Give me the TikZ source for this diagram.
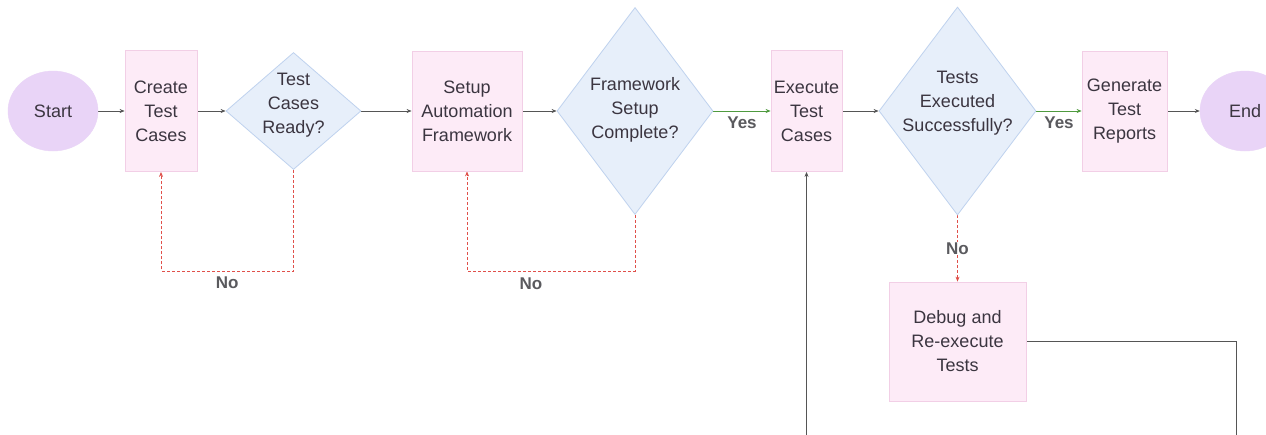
\documentclass[tikz,border=0pt]{standalone}
\usepackage{fontspec}
\setmainfont{Liberation Sans}[Color=3B3540]
\newfontfamily\lblfont{Liberation Sans}[Color=5A5A5E]
\usetikzlibrary{shapes.geometric,arrows.meta,calc,backgrounds}
\definecolor{boxfill}{HTML}{FDEBF7}
\definecolor{boxline}{HTML}{F2CFE6}
\definecolor{diafill}{HTML}{E7EFFA}
\definecolor{dialine}{HTML}{BFD2EE}
\definecolor{termfill}{HTML}{E9D4F7}
\definecolor{arrc}{HTML}{555555}
\definecolor{yesc}{HTML}{4E9A3E}
\definecolor{noc}{HTML}{E0504A}
\begin{document}
\begin{tikzpicture}[x=1pt,y=-1pt,
 every node/.style={font=\fontsize{18}{24}\selectfont},
 procbox/.style={rectangle, draw=boxline, fill=boxfill, line width=0.8pt, inner sep=0pt, align=center},
 decision/.style={diamond, draw=dialine, fill=diafill, line width=0.8pt, inner sep=0pt},
 terminal/.style={ellipse, draw=termfill, fill=termfill, inner sep=0pt, minimum width=90pt, minimum height=80pt},
 words/.style={align=center, inner sep=0pt},
 lbl/.style={font=\lblfont\bfseries\fontsize{17}{20}\selectfont, inner sep=1pt},
 baseflow/.style={line width=0.7pt, -{Stealth[length=5pt,width=4pt]}},
 flow/.style={baseflow, draw=arrc},
 yesflow/.style={baseflow, draw=yesc},
 noflow/.style={baseflow, draw=noc, dash pattern=on 3pt off 2pt},
]
\useasboundingbox (0,0) rectangle (1266,434);
\clip (0,0) rectangle (1266,434);

% nodes
\node[terminal] (start) at (53,111) {Start};
\node[procbox, minimum width=72pt, minimum height=121pt] (create) at (161,111) {Create\\Test\\Cases};
\node[decision, minimum width=135pt, minimum height=117pt] (d1) at (293.5,111) {};
\node[words] (d1t) at ($(d1)+(0,-6)$) {Test\\Cases\\Ready?};
\node[procbox, minimum width=110pt, minimum height=120pt] (setup) at (467,111) {Setup\\Automation\\Framework};
\node[decision, minimum width=156pt, minimum height=207pt] (d2) at (635,111) {};
\node[words] (d2t) at ($(d2)+(0,-1.5)$) {Framework\\Setup\\Complete?};
\node[procbox, minimum width=71pt, minimum height=121pt] (exec) at (806.5,111) {Execute\\Test\\Cases};
\node[decision, minimum width=157pt, minimum height=208pt] (d3) at (957.5,111) {};
\node[words] (d3t) at ($(d3)+(0,-8)$) {Tests\\Executed\\Successfully?};
\node[procbox, minimum width=85pt, minimum height=120pt] (gen) at (1124.5,111) {Generate\\Test\\Reports};
\node[terminal] (end) at (1245,111) {End};
\node[procbox, minimum width=137pt, minimum height=119pt] (debug) at (957.5,341.5) {Debug and\\Re-execute\\Tests};
\coordinate (loopc) at (1236,470);

% connectors
\begin{pgfonlayer}{background}
\fill[white] (0,0) rectangle (1266,434);
\begin{scope}
\clip (0,0) rectangle (1266,434);
\draw[flow] (start) -- (create);
\draw[flow] (create) -- (d1);
\draw[flow] (d1) -- (setup);
\draw[flow] (setup) -- (d2);
\draw[yesflow] (d2) -- (exec);
\draw[flow] (exec) -- (d3);
\draw[yesflow] (d3) -- (gen);
\draw[flow] (gen) -- (end);
\draw[noflow] (d1.south) -- ++(0,101) -| (create.south);
\draw[noflow] (d2.south) -- ++(0,56) -| (setup.south);
\draw[noflow] (d3.south) -- (debug.north);
\draw[flow] (debug.east) -| (loopc) -| (exec.south);
\end{scope}
\end{pgfonlayer}

% connector labels
\path (d2) -- (exec) node[lbl, midway, yshift=-12pt] {Yes};
\path (d3) -- (gen) node[lbl, midway, yshift=-12pt] {Yes};
\path (d1.south) -- ++(0,101) -| (create.south) node[lbl, pos=0.25, yshift=-12pt] {No};
\path (d2.south) -- ++(0,56) -| (setup.south) node[lbl, pos=0.31, yshift=-13pt] {No};
\path (d3.south) -- (debug.north) node[lbl, midway, fill=white] {No};
\end{tikzpicture}
\end{document}
